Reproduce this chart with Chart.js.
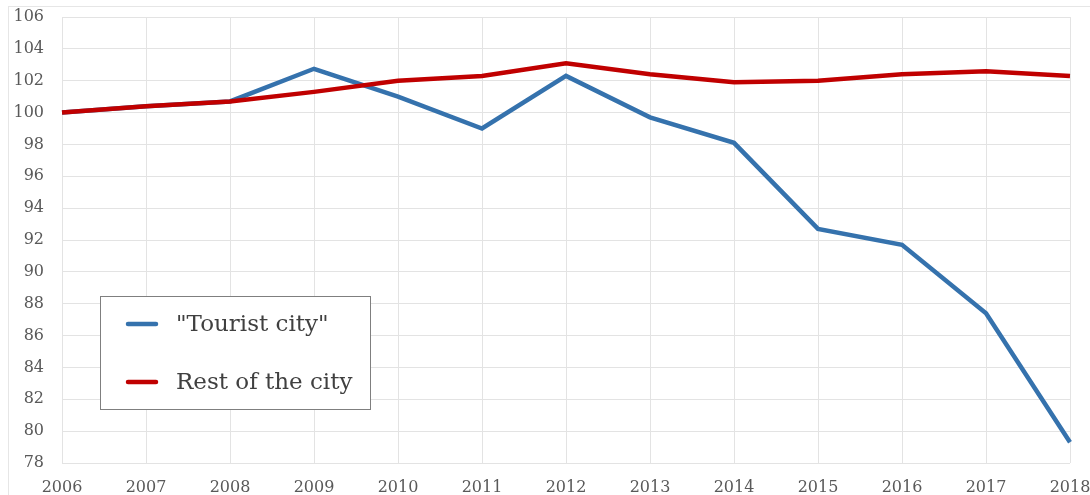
<!DOCTYPE html>
<html>
<head>
<meta charset="utf-8">
<script src="https://cdn.jsdelivr.net/npm/chart.js@4/dist/chart.umd.min.js"></script>
<style>
html,body{margin:0;padding:0;background:#fff;}
#wrap{position:relative;width:1090px;height:495px;}
canvas{display:block;}
</style>
</head>
<body>
<div id="wrap"><canvas id="c" width="1090" height="495"></canvas></div>
<script>
const years = ['2006','2007','2008','2009','2010','2011','2012','2013','2014','2015','2016','2017','2018'];
const touristCity = [100.0, 100.4, 100.7, 102.75, 101.0, 99.0, 102.3, 99.7, 98.1, 92.7, 91.7, 87.4, 79.3];
const restOfCity = [100.0, 100.4, 100.7, 101.3, 102.0, 102.3, 103.1, 102.4, 101.9, 102.0, 102.4, 102.6, 102.3];
const seriesLabels = ['"Tourist city"', 'Rest of the city'];
const yMin = 78, yMax = 106, yStep = 2;

const frame = {
  id: 'frame',
  beforeDraw(chart) {
    const ctx = chart.ctx;
    ctx.save();
    ctx.strokeStyle = '#e6e6e6';
    ctx.lineWidth = 1;
    ctx.strokeRect(8.5, 6.5, 1100, 520);
    ctx.restore();
  }
};

const boxLegend = {
  id: 'boxLegend',
  afterDatasetsDraw(chart) {
    const ctx = chart.ctx;
    ctx.save();
    const x0 = 100.5, y0 = 296.5, w = 270, h = 113;
    ctx.fillStyle = '#ffffff';
    ctx.fillRect(x0, y0, w, h);
    ctx.strokeStyle = '#7f7f7f';
    ctx.lineWidth = 1;
    ctx.strokeRect(x0, y0, w, h);
    const rows = [324, 382];
    chart.data.datasets.forEach((ds, i) => {
      const y = rows[i];
      ctx.strokeStyle = ds.borderColor;
      ctx.lineWidth = 4.5;
      ctx.lineCap = 'round';
      ctx.beginPath();
      ctx.moveTo(128, y);
      ctx.lineTo(156, y);
      ctx.stroke();
      ctx.fillStyle = '#404040';
      ctx.font = '23px "DejaVu Serif"';
      ctx.textBaseline = 'middle';
      ctx.textAlign = 'left';
      ctx.fillText(ds.label, 176, y + 1);
    });
    ctx.restore();
  }
};

new Chart(document.getElementById('c'), {
  type: 'line',
  data: {
    labels: years,
    datasets: [
      { label: seriesLabels[0], data: touristCity, borderColor: '#3572ad', borderWidth: 4.5, pointRadius: 0, tension: 0, fill: false, order: 2 },
      { label: seriesLabels[1], data: restOfCity, borderColor: '#c00000', borderWidth: 4.5, pointRadius: 0, tension: 0, fill: false, order: 1 }
    ]
  },
  options: {
    responsive: false,
    animation: false,
    devicePixelRatio: 1,
    layout: { padding: { top: 17, left: 0, right: 20, bottom: 0 } },
    plugins: { legend: { display: false }, tooltip: { enabled: false } },
    scales: {
      x: {
        type: 'category',
        offset: false,
        grid: { color: '#e3e3e3', lineWidth: 1, drawTicks: false },
        border: { display: false },
        ticks: { color: '#595959', font: { family: 'DejaVu Serif', size: 16 }, padding: 15, maxRotation: 0, autoSkip: false },
        afterFit(s) { s.height = 32; s.paddingLeft = 0; s.paddingRight = 0; }
      },
      y: {
        min: yMin, max: yMax,
        grid: { color: '#e3e3e3', lineWidth: 1, drawTicks: false },
        border: { display: false },
        ticks: { stepSize: yStep, color: '#595959', font: { family: 'DejaVu Serif', size: 16 }, padding: 18 },
        afterFit(s) { s.width = 62; s.paddingTop = 0; s.paddingBottom = 0; }
      }
    }
  },
  plugins: [frame, boxLegend]
});
</script>
</body>
</html>
